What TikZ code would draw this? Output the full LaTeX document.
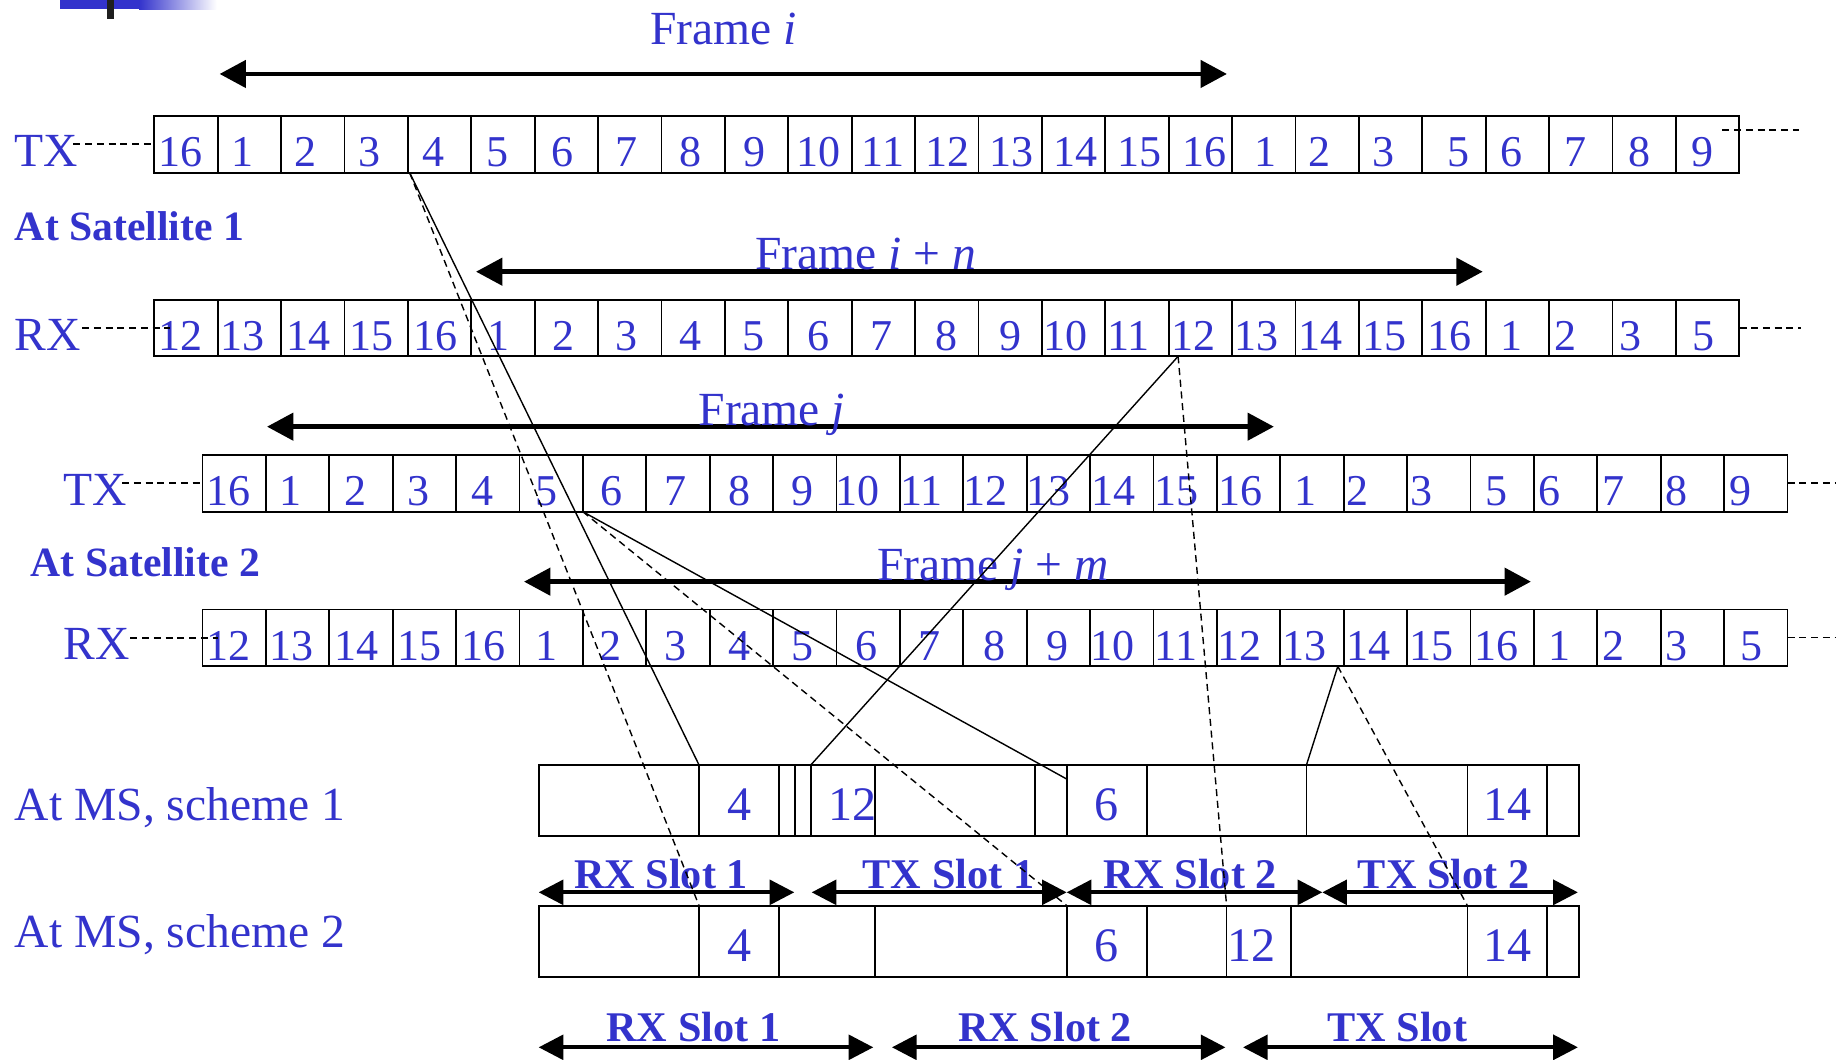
\documentclass[tikz,border=0pt]{standalone}
\usepackage{fontspec}
\setmainfont{Liberation Serif}
\usetikzlibrary{arrows.meta}
\definecolor{txtblue}{RGB}{51,51,204}
\begin{document}
\begin{tikzpicture}[x=1pt,y=-1pt,
  >={Triangle[length=22.5pt,width=23pt]},
  cell/.style={draw,line width=1.5pt,minimum width=54pt,minimum height=48.3pt,inner sep=0pt,outer sep=0pt,anchor=north west},
  mscell/.style={draw,line width=1.5pt,minimum height=60.4pt,inner sep=0pt,outer sep=0pt,anchor=north west},
  digit/.style={text=txtblue,font=\fontsize{37.5}{40}\selectfont,inner sep=0pt,anchor=base},
  msdigit/.style={text=txtblue,font=\fontsize{41}{44}\selectfont,inner sep=0pt,anchor=base},
  lbl/.style={text=txtblue,font=\fontsize{40.5}{44}\selectfont,inner sep=0pt,anchor=base west},
  blbl/.style={text=txtblue,font=\fontsize{35.5}{40}\selectfont\bfseries,inner sep=0pt,anchor=base west},
  slot/.style={text=txtblue,font=\fontsize{36}{40}\selectfont\bfseries,inner sep=0pt,anchor=base},
  framearrow/.style={line width=4pt,<->},
  slotarrow/.style={line width=3.2pt,{Triangle[length=21pt,width=21pt]}-{Triangle[length=21pt,width=21pt]}},
  conn/.style={line width=1.2pt},
  connd/.style={line width=1.2pt,dash pattern=on 6pt off 4pt},
  leader/.style={line width=1.6pt,dash pattern=on 6pt off 4pt}
]
\useasboundingbox (0,0) rectangle (1568,902);

% top-left decoration
\fill[txtblue] (51.1,0) rectangle (118.4,7.7);
\shade[left color=txtblue,right color=white] (118.4,0) rectangle (184.6,8.5);
\fill[black!88] (91.1,0) rectangle (97.1,16.2);

% Satellite 1 TX
\foreach \lab/\off [count=\k from 0] in {16/22,1/21.5,2/21,3/21,4/22,5/22.5,6/24,7/24,8/25,9/25,10/26,11/26.5,12/27.7,13/28,14/28.5,15/28.7,16/30.5,1/28.5,2/20.7,3/21,5/30.7,6/22,7/22.7,8/23,9/22.7}{
  \node[cell] (t1c\k) at (131.4+54*\k,98.8) {};
  \node[digit,xshift=\off pt,yshift=5.2pt] (t1d\k) at (t1c\k.south west) {\lab};
}
% Satellite 1 RX
\foreach \lab/\off [count=\k from 0] in {12/22.2,13/21.5,14/23.2,15/23,16/23.7,1/23,2/24.7,3/24.5,4/24.7,5/24.5,6/25.5,7/25.7,8/26.5,9/27,10/19.7,11/19.5,12/21,13/20.5,14/21.2,15/22.2,16/23.2,1/22.2,2/14,3/15,5/23.5}{
  \node[cell] (r1c\k) at (131.4+54*\k,255.2) {};
  \node[digit,xshift=\off pt,yshift=5.2pt] (r1d\k) at (r1c\k.south west) {\lab};
}
% Satellite 2 TX
\foreach \lab/\off [count=\k from 0] in {16/22.2,1/21.2,2/22.2,3/22,4/22.5,5/22.7,6/24.2,7/24.7,8/25.7,9/25.5,10/18.2,11/18.5,12/18.8,13/19,14/19.8,15/19.8,16/20,1/21.3,2/11.5,3/12,5/21.8,6/13.3,7/13.8,8/13.3,9/13.8}{
  \node[cell] (t2c\k) at (172.4+54*\k,387.5) {};
  \node[digit,xshift=\off pt,yshift=5.2pt] (t2d\k) at (t2c\k.south west) {\lab};
}
% Satellite 2 RX
\foreach \lab/\off [count=\k from 0] in {12/22.2,13/21.7,14/23.2,15/23.2,16/23.7,1/23.2,2/23.7,3/24.7,4/25.2,5/24.7,6/25.7,7/25.5,8/26.3,9/26.5,10/19.3,11/19.3,12/19.5,13/20.5,14/21,15/20.8,16/21.8,1/21.5,2/13.8,3/13.3,5/23}{
  \node[cell] (r2c\k) at (172.4+54*\k,519.2) {};
  \node[digit,xshift=\off pt,yshift=5.2pt] (r2d\k) at (r2c\k.south west) {\lab};
}

% leader dashes
\draw[leader] (62.5,122.9) -- (131.4,122.9);
\draw[leader] (1467,110.7) -- (1532,110.7);
\draw[leader] (70,279.1) -- (145,279.1);
\draw[leader] (1481.5,279) -- (1534,279);
\draw[leader] (104,411.1) -- (170,411.1);
\draw[leader] (1522.5,411) -- (1564,411);
\draw[leader] (111,543.1) -- (186,543.1);
\draw[leader] (1522.5,543) -- (1564,543);

% row labels
\node[lbl] (tx1) at (12.5,142) {TX};
\node[lbl] (rx1) at (12.5,298.1) {RX};
\node[blbl] (sat1) at (12.5,205) {At Satellite 1};
\node[lbl] (tx2) at (54,430.7) {TX};
\node[blbl] (sat2) at (26,491.2) {At Satellite 2};
\node[lbl] (rx2) at (54,562.1) {RX};
\node[lbl] (ms1) at (12.5,699) {At MS, scheme 1};
\node[lbl] (ms2) at (12.5,806.9) {At MS, scheme 2};

% frame arrows
\draw[framearrow] (187,63) -- (1045,63);
\draw[framearrow] (405.4,231.4) -- (1262.9,231.4);
\draw[framearrow] (227.4,363.4) -- (1085,363.4);
\draw[framearrow] (446.3,495.4) -- (1303.9,495.4);
\node[lbl] (fi) at (553.8,38.3) {Frame \textit{i}};
\node[lbl] (fin) at (643,229.5) {Frame \textit{i} + \textit{n}};
\node[lbl] (fj) at (594.8,362) {Frame \textit{j}};
\node[lbl] (fjm) at (747,494.8) {Frame \textit{j} + \textit{m}};

% MS scheme 1
\foreach \nm/\xa/\xb in {a/458.8/595.4,b/595.4/663.7,c/663.7/677,d/677/690.5,e/690.5/745.3,f/745.3/881.3,g/881.3/908.7,h/908.7/976.6,i/976.6/1112.7,j/1112.7/1249.8,k/1249.8/1317.8,l/1317.8/1344.9}{
  \pgfmathsetmacro\w{\xb-\xa}
  \node[mscell,minimum width=\w pt] (m1\nm) at (\xa,651.6) {};
}
% MS scheme 2
\foreach \nm/\xa/\xb in {a/458.8/595.4,b/595.4/663.7,c/663.7/745.3,d/745.3/908.7,e/908.7/976.6,f/976.6/1044.7,g/1044.7/1099.7,h/1099.7/1249.8,i/1249.8/1317.8,j/1317.8/1344.9}{
  \pgfmathsetmacro\w{\xb-\xa}
  \node[mscell,minimum width=\w pt] (m2\nm) at (\xa,771.4) {};
}
\node[msdigit,yshift=13.2pt] (m1bl) at (m1b.south) {4};
\node[msdigit,yshift=13.2pt,xshift=8pt] (m1el) at (m1e.south) {12};
\node[msdigit,yshift=13.2pt] (m1hl) at (m1h.south) {6};
\node[msdigit,yshift=13.2pt] (m1kl) at (m1k.south) {14};
\node[msdigit,yshift=13.2pt] (m2bl) at (m2b.south) {4};
\node[msdigit,yshift=13.2pt] (m2el) at (m2e.south) {6};
\node[msdigit,yshift=13.2pt,xshift=-6pt] (m2gl) at (m2g.south) {12};
\node[msdigit,yshift=13.2pt] (m2il) at (m2i.south) {14};

% slot arrows and labels
\draw[slotarrow] (458.8,760) -- (676.5,760);
\draw[slotarrow] (691.3,760) -- (908.5,760);
\draw[slotarrow] (908.5,760) -- (1126.2,760);
\draw[slotarrow] (1126.2,760) -- (1343.9,760);
\draw[slotarrow] (458.8,892) -- (743.8,892);
\draw[slotarrow] (759.7,892) -- (1043.7,892);
\draw[slotarrow] (1058.7,892) -- (1343.9,892);
\node[slot] (s1a) at (563,756.6) {RX Slot 1};
\node[slot] (s1b) at (807.8,756.6) {TX Slot 1};
\node[slot] (s1c) at (1013.5,756.6) {RX Slot 2};
\node[slot] (s1d) at (1229.6,756.6) {TX Slot 2};
\node[slot] (s2a) at (590.5,887.2) {RX Slot 1};
\node[slot] (s2b) at (890.2,887.2) {RX Slot 2};
\node[slot] (s2c) at (1190.1,887.2) {TX Slot};

% connectors
\draw[conn] ([xshift=1.5pt]t1c4.south west) -- (m1b.north west);
\draw[connd] ([xshift=1.5pt]t1c4.south west) -- (m2b.north west);
\draw[conn] (t2c6.south west) -- ([yshift=-12pt]m1h.north west);
\draw[connd] (t2c6.south west) -- (m2e.north west);
\draw[conn] ([xshift=8pt]r1c16.south west) -- (m1e.north west);
\draw[connd] ([xshift=8pt]r1c16.south west) -- (m2g.north west);
\draw[conn] ([xshift=-5pt]r2c18.south west) -- (m1j.north west);
\draw[connd] ([xshift=-5pt]r2c18.south west) -- (m2i.north west);
\end{tikzpicture}
\end{document}
